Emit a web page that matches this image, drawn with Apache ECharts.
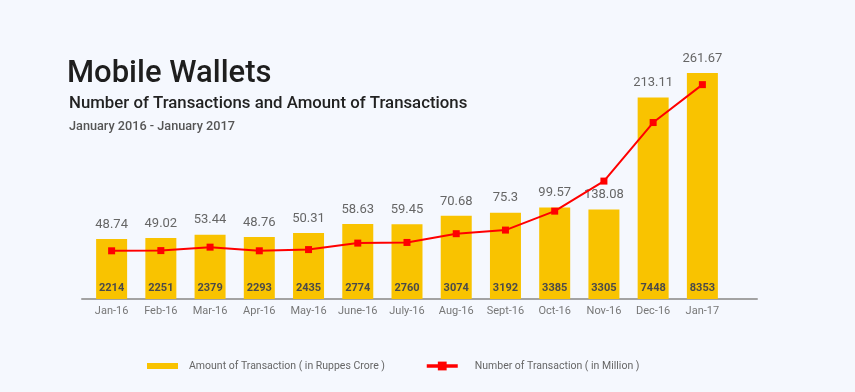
<!DOCTYPE html>
<html>
<head>
<meta charset="utf-8">
<script src="https://cdn.jsdelivr.net/npm/echarts@6/dist/echarts.min.js"></script>
<style>
html,body{margin:0;padding:0;background:#f5f8fe;}
#c{width:855px;height:392px;}
</style>
</head>
<body>
<div id="c"></div>
<script>
const months = ['Jan-16','Feb-16','Mar-16','Apr-16','May-16','June-16','July-16','Aug-16','Sept-16','Oct-16','Nov-16','Dec-16','Jan-17'];
const amountCrore = [2214,2251,2379,2293,2435,2774,2760,3074,3192,3385,3305,7448,8353];
const numberMillion = [48.74,49.02,53.44,48.76,50.31,58.63,59.45,70.68,75.3,99.57,138.08,213.11,261.67];
const amountName = 'Amount of Transaction ( in Ruppes Crore )';
const numberName = 'Number of Transaction ( in Million )';

const chart = echarts.init(document.getElementById('c'));
const FONT = 'Roboto';
chart.setOption({
  backgroundColor: '#f5f8fe',
  animation: false,
  textStyle: {fontFamily: FONT},
  title: [
    {text: 'Mobile Wallets', left: 67, top: 59, padding: 0, textStyle: {fontSize: 31, fontWeight: 500, color: '#1e1e1e', fontFamily: FONT}},
    {text: 'Number of Transactions and Amount of Transactions', left: 69, top: 95, padding: 0, textStyle: {fontSize: 16.8, fontWeight: 500, color: '#222', fontFamily: FONT}},
    {text: 'January 2016 - January 2017', left: 69, top: 120, padding: 0, textStyle: {fontSize: 12.7, fontWeight: 500, color: '#555', fontFamily: FONT}}
  ],
  legend: [
    {left: 147, top: 360.5, padding: 0, itemWidth: 31, itemHeight: 11, selectedMode: false,
     data: [{name: amountName, icon: 'path://M0 0H31V6H0Z'}],
     textStyle: {fontSize: 10.5, color: '#666', padding: [0,0,0,6]}},
    {left: 425, top: 360.5, padding: 0, itemWidth: 31, itemHeight: 11, selectedMode: false,
     data: [{name: numberName, lineStyle: {width: 3.5}}],
     textStyle: {fontSize: 10.5, color: '#666', padding: [0,0,0,12]}}
  ],
  grid: [
    {left: 87, right: 128, top: 55.5, bottom: 93},
    {left: 82, right: 98, top: 55.5, bottom: 93}
  ],
  xAxis: [
    {type: 'category', data: months, gridIndex: 0, boundaryGap: true,
     axisLine: {lineStyle: {color: '#a3a3a3', width: 2}},
     axisTick: {length: 9, interval: 0, lineStyle: {color: '#a3a3a3', width: 1}},
     axisLabel: {interval: 0, fontSize: 11, color: '#777', margin: 7}},
    {type: 'value', gridIndex: 1, min: 0, max: 1,
     axisLine: {show: true, onZero: false, lineStyle: {color: '#a3a3a3', width: 2}},
     axisTick: {show: false}, axisLabel: {show: false}, splitLine: {show: false}}
  ],
  yAxis: [
    {type: 'value', gridIndex: 0, min: 0, max: 9000, show: false, splitLine: {show: false}},
    {type: 'value', gridIndex: 0, min: -13, max: 299, show: false, splitLine: {show: false}},
    {type: 'value', gridIndex: 1, min: 0, max: 1, show: false}
  ],
  series: [
    {name: amountName, type: 'bar', xAxisIndex: 0, yAxisIndex: 0, data: amountCrore,
     barWidth: 31, itemStyle: {color: '#f9c300'},
     label: {show: true, position: 'insideBottom', distance: 5, fontSize: 11, fontWeight: 'bold', color: '#4a4a4a'}},
    {name: 'labels', type: 'bar', xAxisIndex: 0, yAxisIndex: 0, data: amountCrore,
     barWidth: 31, barGap: '-100%', silent: true, itemStyle: {color: 'rgba(0,0,0,0)'},
     label: {show: true, position: 'top', distance: 8, fontSize: 13, color: '#666',
       formatter: p => String(numberMillion[p.dataIndex])}},
    {name: numberName, type: 'line', xAxisIndex: 0, yAxisIndex: 1, data: numberMillion,
     symbol: 'rect', symbolSize: 7, z: 5,
     lineStyle: {color: '#ff0000', width: 2}, itemStyle: {color: '#ff0000'}}
  ]
});
</script>
</body>
</html>
